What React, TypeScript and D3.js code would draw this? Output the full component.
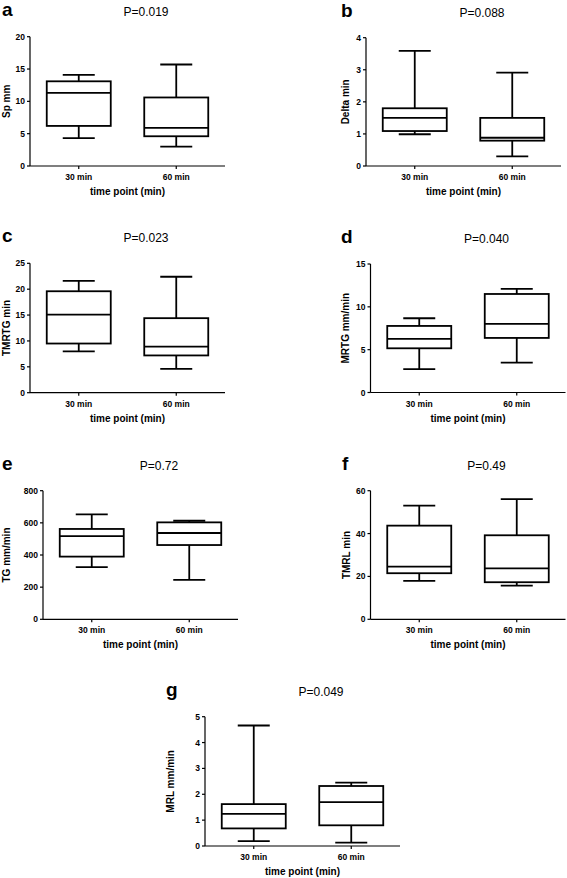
import React from "react";
import * as d3 from "d3";

// ---- data (five-number summaries: min, Q1, median, Q3, max) ----
const groups = ["30 min", "60 min"];

const spMm30 = [4.3, 6.2, 11.3, 13.1, 14.1];
const spMm60 = [3.0, 4.6, 5.9, 10.6, 15.7];

const deltaMin30 = [0.99, 1.09, 1.5, 1.8, 3.59];
const deltaMin60 = [0.3, 0.79, 0.88, 1.5, 2.91];

const tmrtg30 = [8.0, 9.5, 15.1, 19.6, 21.6];
const tmrtg60 = [4.6, 7.2, 8.9, 14.4, 22.4];

const mrtg30 = [2.73, 5.16, 6.25, 7.77, 8.67];
const mrtg60 = [3.48, 6.37, 8.0, 11.5, 12.1];

const tg30 = [325, 390, 518, 562, 653];
const tg60 = [245, 462, 537, 603, 613];

const tmrl30 = [17.9, 21.5, 24.6, 43.7, 53.0];
const tmrl60 = [15.7, 17.3, 23.8, 39.2, 56.1];

const mrl30 = [0.19, 0.68, 1.24, 1.62, 4.66];
const mrl60 = [0.13, 0.8, 1.7, 2.32, 2.45];

const panelLetters = ["a", "b", "c", "d", "e", "f", "g"];
const pValues = ["P=0.019", "P=0.088", "P=0.023", "P=0.040", "P=0.72", "P=0.49", "P=0.049"];
const yTitles = ["Sp mm", "Delta min", "TMRTG min", "MRTG mm/min", "TG mm/min", "TMRL min", "MRL mm/min"];
const yMax = [20, 4, 25, 15, 800, 60, 5];
const yStep = [5, 1, 5, 5, 200, 20, 1];
const xTitle = "time point (min)";

const seriesByPanel = [
  [spMm30, spMm60],
  [deltaMin30, deltaMin60],
  [tmrtg30, tmrtg60],
  [mrtg30, mrtg60],
  [tg30, tg60],
  [tmrl30, tmrl60],
  [mrl30, mrl60],
];

// ---- layout (pixels) ----
const layout = [
  { axisX: 30, top: 36.7, bottom: 166, letterX: 2 },
  { axisX: 366, top: 37.7, bottom: 166, letterX: 341 },
  { axisX: 30, top: 263.3, bottom: 392.7, letterX: 2 },
  { axisX: 370.5, top: 264, bottom: 392.5, letterX: 341 },
  { axisX: 43, top: 490.7, bottom: 619.3, letterX: 2 },
  { axisX: 370.5, top: 490.7, bottom: 619.3, letterX: 342 },
  { axisX: 205, top: 716.7, bottom: 846, letterX: 166 },
];
const PLOT_W = 195;
const BOX_W = 64;
const CAP_W = 32;
const FONT = "'Liberation Sans', Arial, Helvetica, sans-serif";

function Panel({ i }: { i: number }) {
  const L = layout[i];
  const x = d3
    .scalePoint<string>()
    .domain(groups)
    .range([L.axisX, L.axisX + PLOT_W])
    .padding(0.5);
  const y = d3.scaleLinear().domain([0, yMax[i]]).range([L.bottom, L.top]);
  const ticks = d3.range(0, yMax[i] + yStep[i] / 2, yStep[i]);
  const midY = (L.top + L.bottom) / 2;
  return (
    <g>
      <text x={L.letterX} y={L.top - 21} fontFamily={FONT} fontWeight="bold" fontSize={19} fill="#000">
        {panelLetters[i]}
      </text>
      <text x={L.axisX + 116} y={L.top - 21} fontFamily={FONT} fontSize={12} textAnchor="middle" fill="#000">
        {pValues[i]}
      </text>
      <text
        transform={`translate(${L.letterX + 4},${midY}) rotate(-90)`}
        fontFamily={FONT}
        fontWeight="bold"
        fontSize={10}
        textAnchor="middle"
        dominantBaseline="central"
        fill="#000"
      >
        {yTitles[i]}
      </text>
      {/* y axis */}
      <line x1={L.axisX} x2={L.axisX} y1={y(yMax[i])} y2={L.bottom} stroke="#000" strokeWidth={1.2} />
      {ticks.map((t) => (
        <g key={t}>
          <line x1={L.axisX - 3} x2={L.axisX} y1={y(t)} y2={y(t)} stroke="#000" strokeWidth={1.2} />
          <text
            x={L.axisX - 5}
            y={y(t)}
            textAnchor="end"
            dominantBaseline="central"
            fontFamily={FONT}
            fontWeight="bold"
            fontSize={8.5}
            fill="#000"
          >
            {t}
          </text>
        </g>
      ))}
      {/* x axis */}
      <line x1={L.axisX} x2={L.axisX + PLOT_W} y1={L.bottom} y2={L.bottom} stroke="#000" strokeWidth={1.2} />
      {groups.map((g) => (
        <g key={g}>
          <line x1={x(g)} x2={x(g)} y1={L.bottom} y2={L.bottom + 3} stroke="#000" strokeWidth={1.2} />
          <text
            x={x(g)}
            y={L.bottom + 14}
            textAnchor="middle"
            fontFamily={FONT}
            fontWeight="bold"
            fontSize={8.5}
            fill="#000"
          >
            {g}
          </text>
        </g>
      ))}
      <text
        x={L.axisX + PLOT_W / 2}
        y={L.bottom + 29}
        textAnchor="middle"
        fontFamily={FONT}
        fontWeight="bold"
        fontSize={10}
        fill="#000"
      >
        {xTitle}
      </text>
      {/* boxes */}
      {seriesByPanel[i].map((s, k) => {
        const cx = x(groups[k]) as number;
        const [mn, q1, md, q3, mx] = s;
        return (
          <g key={k} stroke="#000" strokeWidth={1.8} fill="none">
            <line x1={cx} x2={cx} y1={y(mx)} y2={y(q3)} />
            <line x1={cx} x2={cx} y1={y(q1)} y2={y(mn)} />
            <line x1={cx - CAP_W / 2} x2={cx + CAP_W / 2} y1={y(mx)} y2={y(mx)} />
            <line x1={cx - CAP_W / 2} x2={cx + CAP_W / 2} y1={y(mn)} y2={y(mn)} />
            <rect x={cx - BOX_W / 2} y={y(q3)} width={BOX_W} height={y(q1) - y(q3)} fill="#fff" />
            <line x1={cx - BOX_W / 2} x2={cx + BOX_W / 2} y1={y(md)} y2={y(md)} />
          </g>
        );
      })}
    </g>
  );
}

export default function App() {
  return (
    <svg
      width={567}
      height={878}
      viewBox="0 0 567 878"
      style={{ position: "absolute", left: 0, top: 0, background: "#fff" }}
    >
      <rect width={567} height={878} fill="#fff" />
      {layout.map((_, i) => (
        <Panel key={i} i={i} />
      ))}
    </svg>
  );
}
